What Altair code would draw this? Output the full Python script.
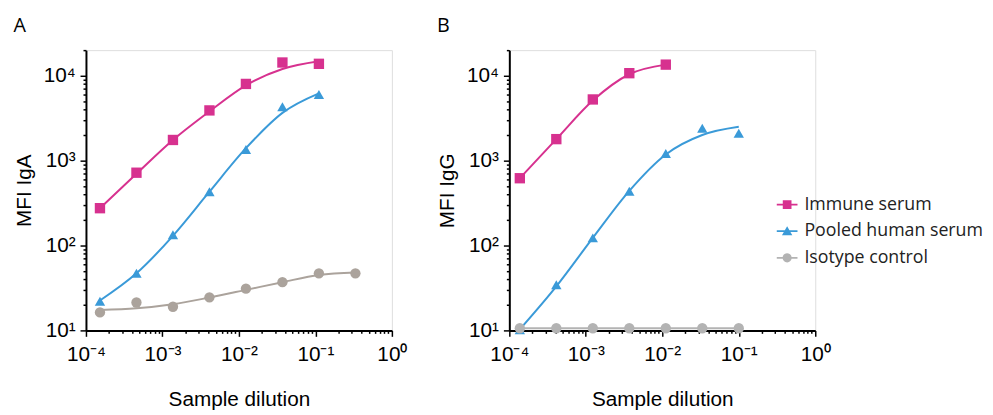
import altair as alt
import pandas as pd

series = ["Immune serum", "Pooled human serum", "Isotype control"]

# Panel A (IgA)
dil_A = [1/6561, 1/2187, 1/729, 1/243, 1/81, 1/27, 1/9, 1/3]
immune_A = [275, 720, 1750, 3900, 8000, 14300, 13800]
immune_A_fit = [275, 700, 1750, 3800, 7700, 12000, 14800]
pooled_A = [22, 47, 134, 430, 1350, 4300, 6000]
pooled_A_fit = [22.5, 47, 130, 430, 1400, 3650, 6200]
iso_A = [16.3, 21.3, 19, 24.5, 31, 37, 47, 47]
iso_A_fit = [17.4, 18.2, 20.3, 24.4, 30, 37, 45, 48]

# Panel B (IgG)
dil_B = [1/7290, 1/2430, 1/810, 1/270, 1/90, 1/30, 1/10]
immune_B = [620, 1790, 5250, 10700, 13500]
immune_B_fit = [620, 1790, 5100, 10400, 13500]
pooled_B = [10.2, 34.5, 123, 435, 1210, 2400, 2100]
pooled_B_fit = [10.3, 33, 123, 440, 1180, 2000, 2500]
iso_B = [10.6, 10.6, 10.6, 10.6, 10.6, 10.6, 10.6]
iso_B_fit = [10.6, 10.6, 10.6, 10.6, 10.6, 10.6, 10.6]

colors_A = ["#d7318f", "#3a9ad8", "#aba39c"]
colors_B = ["#d7318f", "#3a9ad8", "#b3b3b3"]
shapes = ["square", "triangle-up", "circle"]

x_major = [0.0001, 0.001, 0.01, 0.1, 1]
x_labels = ["10⁻⁴", "10⁻³", "10⁻²", "10⁻¹", "10⁰"]
y_major = [10, 100, 1000, 10000]
y_labels = ["10¹", "10²", "10³", "10⁴"]


def rows(dil, vals, fits, name):
    return [{"series": name, "x": dil[i], "y": vals[i], "fit": fits[i]} for i in range(len(vals))]


df_A = pd.DataFrame(rows(dil_A, immune_A, immune_A_fit, series[0])
                    + rows(dil_A, pooled_A, pooled_A_fit, series[1])
                    + rows(dil_A, iso_A, iso_A_fit, series[2]))
df_B = pd.DataFrame(rows(dil_B, immune_B, immune_B_fit, series[0])
                    + rows(dil_B, pooled_B, pooled_B_fit, series[1])
                    + rows(dil_B, iso_B, iso_B_fit, series[2]))

x_vals = [k * 10.0 ** e for e in range(-4, 0) for k in range(1, 10)] + [1]
y_vals = [k * 10.0 ** e for e in range(1, 4) for k in range(1, 10)] + [10000, 20000]


def label_expr(majors, labels):
    s = "''"
    for v, l in reversed(list(zip(majors, labels))):
        s = f"datum.value == {v} ? '{l}' : ({s})"
    return s


def tick_test(majors):
    return "indexof([" + ",".join(str(v) for v in majors) + "], datum.value) >= 0"


AX_FONT = "Liberation Sans"

x_axis = alt.Axis(values=x_vals, labelExpr=label_expr(x_major, x_labels),
                  tickSize={"condition": {"test": tick_test(x_major), "value": 6}, "value": 3},
                  title="Sample dilution", titleFontSize=21, titleFontWeight="normal",
                  titlePadding=24, labelFontSize=21, labelPadding=8, labelFont=AX_FONT,
                  titleFont=AX_FONT, domainColor="black", domainWidth=2, tickColor="black",
                  tickWidth=1.5, labelColor="black", titleColor="black", grid=False,
                  labelFlush=False, labelOverlap=False)


def y_axis(title):
    return alt.Axis(values=y_vals, labelExpr=label_expr(y_major, y_labels),
                    tickSize={"condition": {"test": tick_test(y_major), "value": 6}, "value": 3},
                    title=title, titleFontSize=21, titleFontWeight="normal", titlePadding=9,
                    labelFontSize=21, labelPadding=5, labelFont=AX_FONT, titleFont=AX_FONT,
                    domainColor="black", domainWidth=2, tickColor="black", tickWidth=1.5,
                    labelColor="black", titleColor="black", grid=False, labelFlush=False,
                    labelOverlap=False)


sq = "M-0.42,-0.42 L0.42,-0.42 L0.42,0.42 L-0.42,0.42 Z"
tri = "M0,-0.48 L0.5,0.4 L-0.5,0.4 Z"
circ = "M0.44,0 A0.44,0.44 0 1,1 -0.44,0 A0.44,0.44 0 1,1 0.44,0 Z"
bar = "M-1,-0.085 L1,-0.085 L1,0.085 L-1,0.085 Z "
legend_shapes = [bar + sq, bar + tri, bar + circ]


def panel(df, colors, title, ytitle, with_legend):
    xs = alt.Scale(type="log", domain=[0.0001, 1], nice=False)
    ys = alt.Scale(type="log", domain=[10, 20000], nice=False)
    base = alt.Chart(df)
    X = alt.X("x:Q", scale=xs, axis=x_axis)
    layers = []
    for name, col, shp in zip(series, colors, shapes):
        sub = base.transform_filter(alt.datum.series == name)
        layers.append(
            sub.mark_line(interpolate="monotone", strokeWidth=2, color=col).encode(
                x=X, y=alt.Y("fit:Q", scale=ys, axis=y_axis(ytitle)))
        )
    for name, col, shp in zip(series, colors, shapes):
        sub = base.transform_filter(alt.datum.series == name)
        layers.append(
            sub.mark_point(filled=True, opacity=1, size=110, shape=shp, color=col).encode(
                x=X, y=alt.Y("y:Q", scale=ys, axis=y_axis(ytitle)))
        )
    if with_legend:
        leg = alt.Legend(title=None, orient="none", legendX=271, legendY=146,
                         labelFontSize=18, labelFont="Open Sans", labelColor="#222222",
                         labelLimit=300, symbolSize=441, symbolStrokeWidth=0,
                         symbolOpacity=1, rowPadding=7, labelOffset=7)
        layers.append(
            base.mark_point(filled=True, opacity=0).encode(
                x=X,
                y=alt.Y("y:Q", scale=ys, axis=y_axis(ytitle)),
                color=alt.Color("series:N", scale=alt.Scale(domain=series, range=colors),
                                legend=leg),
                shape=alt.Shape("series:N",
                                scale=alt.Scale(domain=series, range=legend_shapes),
                                legend=leg),
            )
        )
    return alt.layer(*layers).properties(
        width=310, height=284,
        title=alt.TitleParams(title, anchor="start", frame="bounds", fontSize=20,
                              fontWeight="normal", font="Open Sans", offset=3,
                              color="black"),
    )


chart_A = panel(df_A, colors_A, "A", "MFI IgA", False)
chart_B = panel(df_B, colors_B, "B", "MFI IgG", True)

chart = alt.hconcat(chart_A, chart_B, spacing=29).resolve_scale(
    color="independent", shape="independent"
).properties(
    padding={"left": 5, "top": 5, "right": 0, "bottom": 0}
).configure_view(stroke=None).configure(background="white")

chart.save("out.html", embed_options={"renderer": "svg", "actions": False})
